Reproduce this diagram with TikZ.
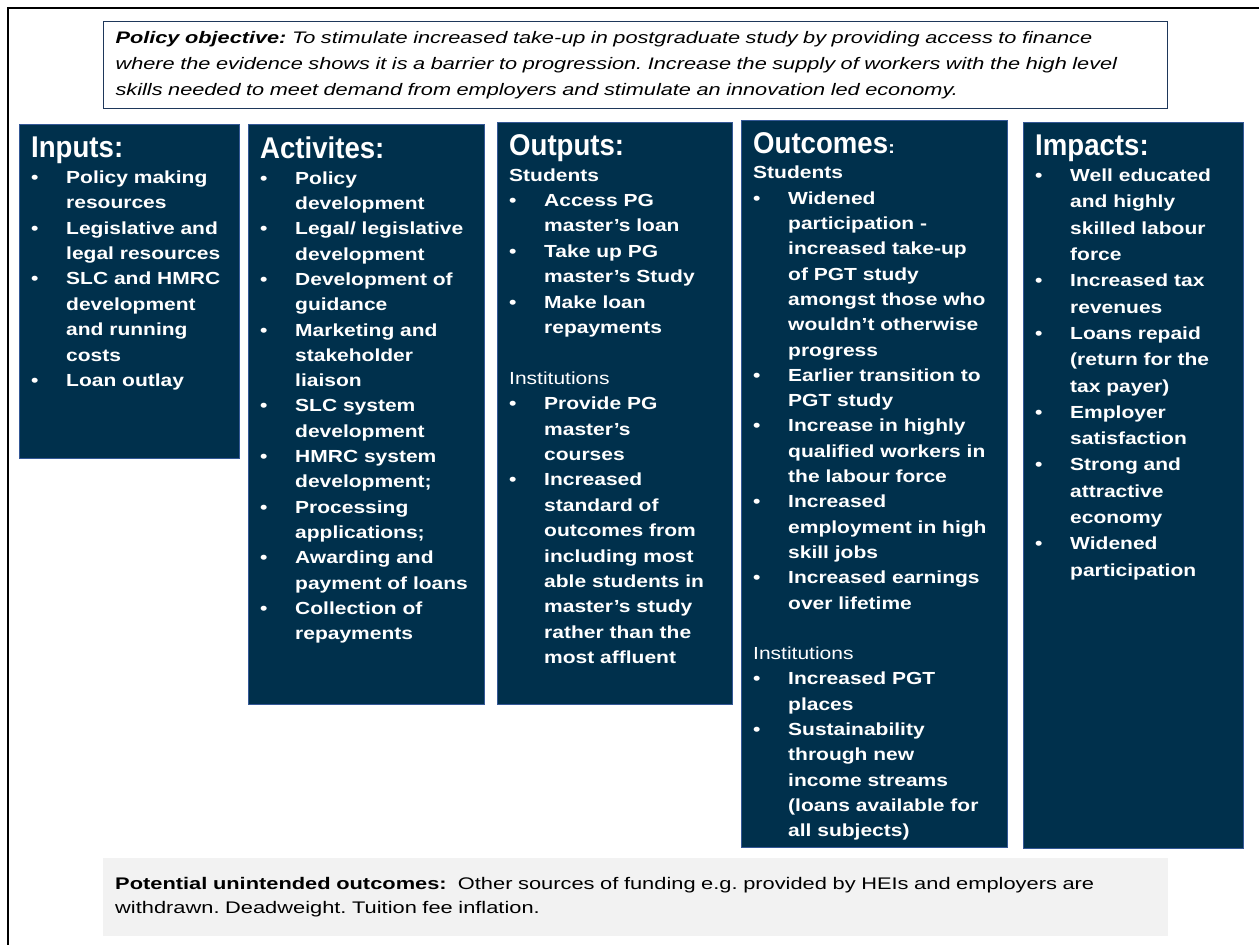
\documentclass[tikz,border=0pt]{standalone}
\usepackage{fontspec}
\setmainfont{Liberation Sans}
\newfontfamily\bodyfont[FakeStretch=1.2]{Liberation Sans}
\newfontfamily\notefont[FakeStretch=1.3]{Liberation Sans}
\newfontfamily\headfont[FakeStretch=0.92]{Liberation Sans}
\usetikzlibrary{positioning}
\frenchspacing
\definecolor{navy}{RGB}{0,48,76}
\definecolor{navyedge}{RGB}{52,88,150}
\definecolor{objedge}{RGB}{30,55,90}
\definecolor{lightgrey}{RGB}{242,242,242}
\newcommand{\lnbrk}{\hfil\break}
\newcommand{\itm}[1]{\par\hangindent=35pt\hangafter=1\makebox[35pt][l]{\textbullet}{\let\\\lnbrk #1}\par}
\newcommand{\colhead}[1]{{\headfont\fontsize{30}{30}\selectfont #1}}
\newcommand{\grouphead}[1]{\par #1\par}

\begin{document}
\begin{tikzpicture}[x=1pt, y=-1pt,
                    colbox/.style={draw=navyedge, line width=1pt, fill=navy, anchor=north west, inner sep=0pt},
                    coltext/.style 2 args={below right=13pt and 12pt of #1.north west, inner sep=0pt, text=white, align=left,
                                    font=\bodyfont\bfseries\fontsize{17.5}{#2}\selectfont,
                                    execute at begin node=\setlength{\parindent}{0pt}},
                    objbox/.style={draw=objedge, line width=1.2pt, fill=white, anchor=north west, inner xsep=12pt,
                                   minimum width=1064pt, minimum height=87pt, text width=1040pt, align=left,
                                   font=\notefont\itshape\fontsize{16.7}{26.3}\selectfont},
                    notebox/.style={fill=lightgrey, anchor=north west, inner xsep=12pt, minimum width=1065pt,
                                    minimum height=78pt, text width=1041pt, align=left,
                                    font=\notefont\fontsize{16.8}{23.5}\selectfont}]
\useasboundingbox (0,0) rectangle (1259,945);
\draw[line width=2pt] (8,945) |- (1259,8);

\node[objbox] (objective) at (103,21) {\textbf{Policy objective:} To stimulate increased take-up in postgraduate study by providing access to finance\\
where the evidence shows it is a barrier to progression. Increase the supply of workers with the high level\\
skills needed to meet demand from employers and stimulate an innovation led economy.};

\node[colbox, minimum width=220pt, minimum height=334pt] (inputs) at (19,124) {};
\node[coltext={inputs}{25.4}, text width=206pt] (inputstxt) {\colhead{Inputs:}
\itm{Policy making\\resources}
\itm{Legislative and\\legal resources}
\itm{SLC and HMRC\\development\\and running\\costs}
\itm{Loan outlay}};

\node[colbox, minimum width=236pt, minimum height=580pt] (activities) at (248,124) {};
\node[coltext={activities}{25.3}, text width=222pt] (activitiestxt) {\colhead{Activites:}
\itm{Policy\\development}
\itm{Legal/ legislative\\development}
\itm{Development of\\guidance}
\itm{Marketing and\\stakeholder\\liaison}
\itm{SLC system\\development}
\itm{HMRC system\\development;}
\itm{Processing\\applications;}
\itm{Awarding and\\payment of loans}
\itm{Collection of\\repayments}};

\node[colbox, minimum width=235pt, minimum height=582pt] (outputs) at (497,121.5) {};
\node[coltext={outputs}{25.4}, text width=221pt] (outputstxt) {\colhead{Outputs:}
\grouphead{Students}
\itm{Access PG\\master’s loan}
\itm{Take up PG\\master’s Study}
\itm{Make loan\\repayments}
\vspace{\baselineskip}
\grouphead{{\mdseries Institutions}}
\itm{Provide PG\\master’s\\courses}
\itm{Increased\\standard of\\outcomes from\\including most\\able students in\\master’s study\\rather than the\\most affluent}};

\node[colbox, minimum width=266pt, minimum height=727pt] (outcomes) at (741,119.5) {};
\node[coltext={outcomes}{25.3}, text width=252pt] (outcomestxt) {\colhead{Outcomes}:
\grouphead{Students}
\itm{Widened\\participation -\\increased take-up\\of PGT study\\amongst those who\\wouldn’t otherwise\\progress}
\itm{Earlier transition to\\PGT study}
\itm{Increase in highly\\qualified workers in\\the labour force}
\itm{Increased\\employment in high\\skill jobs}
\itm{Increased earnings\\over lifetime}
\vspace{\baselineskip}
\grouphead{{\mdseries Institutions}}
\itm{Increased PGT\\places}
\itm{Sustainability\\through new\\income streams\\(loans available for\\all subjects)}};

\node[colbox, minimum width=220pt, minimum height=726pt] (impacts) at (1023,121.5) {};
\node[coltext={impacts}{26.3}, text width=206pt] (impactstxt) {\colhead{Impacts:}
\itm{Well educated\\and highly\\skilled labour\\force}
\itm{Increased tax\\revenues}
\itm{Loans repaid\\(return for the\\tax payer)}
\itm{Employer\\satisfaction}
\itm{Strong and\\attractive\\economy}
\itm{Widened\\participation}};

\node[notebox] (unintended) at (103,858) {\textbf{Potential unintended outcomes:}\ \ Other sources of funding e.g. provided by HEIs and employers are\\
withdrawn. Deadweight. Tuition fee inflation.};
\end{tikzpicture}
\end{document}
